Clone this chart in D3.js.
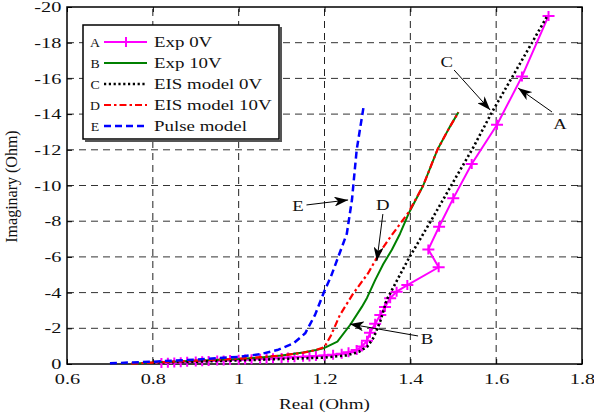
<!DOCTYPE html>
<html>
<head>
<meta charset="utf-8">
<script src="https://cdn.jsdelivr.net/npm/d3@7/dist/d3.min.js"></script>
<style>
  body { margin: 0; background: #fff; }
  svg { display: block; font-family: "Liberation Serif", "Times New Roman", serif; }
</style>
</head>
<body>
<div id="chart"></div>
<script>
// Exp 0V (magenta, + markers)
var exp0Re = [0.82,0.835,0.85,0.865,0.88,0.9,0.915,0.93,0.95,0.965,0.98,1.0,1.015,1.03,1.05,1.065,1.08,1.1,1.115,1.13,1.15,1.165,1.18,1.2,1.22,1.24,1.256,1.275,1.287,1.299,1.306,1.318,1.33,1.341,1.353,1.368,1.393,1.466,1.442,1.467,1.5,1.543,1.602,1.66,1.722];
var exp0Im = [-0.05,-0.07,-0.09,-0.1,-0.12,-0.14,-0.15,-0.17,-0.19,-0.2,-0.22,-0.24,-0.25,-0.27,-0.29,-0.3,-0.32,-0.34,-0.36,-0.38,-0.4,-0.42,-0.45,-0.48,-0.52,-0.58,-0.66,-0.78,-0.98,-1.3,-1.75,-2.25,-2.75,-3.2,-3.68,-4.05,-4.42,-5.42,-6.42,-7.69,-9.28,-11.2,-13.4,-16.1,-19.5];

// Exp 10V (green)
var exp10Re = [0.75,0.8,0.9,1.0,1.05,1.1,1.15,1.18,1.2,1.23,1.26,1.287,1.299,1.318,1.337,1.357,1.376,1.396,1.43,1.463,1.49,1.512];
var exp10Im = [-0.02,-0.08,-0.18,-0.28,-0.36,-0.47,-0.65,-0.78,-0.9,-1.25,-2.2,-3.2,-3.7,-4.7,-5.6,-6.4,-7.3,-8.43,-10.0,-12.0,-13.2,-14.1];

// EIS model 0V (black dotted)
var eis0Re = [0.8,0.9,1.0,1.1,1.2,1.25,1.28,1.3,1.315,1.33,1.345,1.396,1.45,1.5,1.546,1.59,1.65,1.718];
var eis0Im = [-0.08,-0.13,-0.2,-0.28,-0.36,-0.48,-0.68,-0.98,-1.5,-2.4,-3.6,-5.9,-8.1,-10.2,-12.1,-14.1,-16.6,-19.45];

// EIS model 10V (red dash-dot)
var eis10Re = [0.75,0.8,0.9,1.0,1.05,1.1,1.15,1.18,1.2,1.215,1.236,1.267,1.302,1.33,1.353,1.396,1.43,1.463,1.49,1.512];
var eis10Im = [-0.02,-0.08,-0.19,-0.3,-0.38,-0.48,-0.63,-0.78,-0.95,-1.6,-2.75,-3.95,-5.1,-6.3,-7.1,-8.5,-10.0,-12.0,-13.2,-14.1];

// Pulse model (blue dashed)
var pulseRe = [0.7,0.8,0.9,1.0,1.05,1.09,1.128,1.155,1.178,1.2,1.215,1.232,1.252,1.264,1.275,1.291];
var pulseIm = [-0.04,-0.13,-0.25,-0.4,-0.55,-0.78,-1.16,-1.72,-2.75,-4.1,-4.9,-6.0,-7.3,-9.2,-12.0,-14.4];

var xTicks = [0.6,0.8,1,1.2,1.4,1.6,1.8];
var yTicks = [0,-2,-4,-6,-8,-10,-12,-14,-16,-18,-20];

var seriesNames = ["Exp 0V","Exp 10V","EIS model 0V","EIS model 10V","Pulse model"];
var seriesTags = ["A","B","C","D","E"];

// annotation letters: [tag, labelRe, labelIm, fromRe, fromIm, toRe, toIm]
var notes = [
  ["C", 1.485, -16.94, 1.502, -16.47, 1.586, -14.23],
  ["A", 1.749, -13.45, 1.730, -14.12, 1.651, -15.46],
  ["E", 1.138, -8.85, 1.158, -8.91, 1.255, -9.19],
  ["D", 1.336, -8.91, 1.336, -8.40, 1.322, -5.77],
  ["B", 1.439, -1.40, 1.418, -1.57, 1.259, -2.24]
];

function zip(a, b) {
  return a.map(function(v, i) { return [v, b[i]]; });
}

function init() {
    var w = 594, h = 416;
    var sx = 1.4; // horizontal stretch of the reference's text

    var svg = d3.select("#chart").append("svg")
        .attr("width", w).attr("height", h);

    var x = d3.scaleLinear().domain([0.6, 1.8]).range([67, 582]);
    var y = d3.scaleLinear().domain([0, -20]).range([364, 7]);

    var defs = svg.append("defs");
    defs.append("marker")
        .attr("id", "arrow")
        .attr("markerUnits", "userSpaceOnUse")
        .attr("viewBox", "0 0 14 10")
        .attr("refX", 14).attr("refY", 5)
        .attr("markerWidth", 14).attr("markerHeight", 10)
        .attr("orient", "auto")
        .append("path")
        .attr("d", "M0,0 L14,5 L0,10 L4,5 Z")
        .attr("fill", "#000");

    // grid
    svg.append("g").selectAll("line")
        .data(xTicks.slice(1, -1))
        .enter().append("line")
        .attr("x1", function(d) { return x(d); })
        .attr("x2", function(d) { return x(d); })
        .attr("y1", y(0)).attr("y2", y(-20))
        .attr("stroke", "#222").attr("stroke-width", 1)
        .attr("stroke-dasharray", "7,5");
    svg.append("g").selectAll("line")
        .data(yTicks.slice(1, -1))
        .enter().append("line")
        .attr("y1", function(d) { return y(d); })
        .attr("y2", function(d) { return y(d); })
        .attr("x1", x(0.6)).attr("x2", x(1.8))
        .attr("stroke", "#333").attr("stroke-width", 1)
        .attr("stroke-dasharray", "7,5");

    // axes
    svg.append("g").attr("transform", "translate(0," + y(0) + ")")
        .call(d3.axisBottom(x).tickValues(xTicks).tickSizeInner(-5).tickSizeOuter(0).tickPadding(10)
            .tickFormat(function(d) { return String(d); }));
    svg.append("g").attr("transform", "translate(" + x(0.6) + ",0)")
        .call(d3.axisLeft(y).tickValues(yTicks).tickSizeInner(-5).tickSizeOuter(0).tickPadding(4)
            .tickFormat(function(d) { return String(d); }));
    svg.append("g").attr("transform", "translate(0," + y(-20) + ")")
        .call(d3.axisTop(x).tickValues(xTicks).tickSizeInner(-5).tickSizeOuter(0).tickFormat(""));
    svg.append("g").attr("transform", "translate(" + x(1.8) + ",0)")
        .call(d3.axisRight(y).tickValues(yTicks).tickSizeInner(-5).tickSizeOuter(0).tickFormat(""));

    svg.selectAll(".domain").remove();
    svg.selectAll(".tick line").attr("stroke", "#000");
    svg.selectAll(".tick text")
        .attr("font-family", "Liberation Serif")
        .attr("font-size", 14.5)
        .attr("fill", "#111")
        .attr("transform", "scale(" + sx + ",1)");

    svg.append("rect")
        .attr("x", x(0.6)).attr("y", y(-20))
        .attr("width", x(1.8) - x(0.6)).attr("height", y(0) - y(-20))
        .attr("fill", "none").attr("stroke", "#000").attr("stroke-width", 1.5);

    // axis titles
    svg.append("g").attr("transform", "translate(" + ((x(0.6) + x(1.8)) / 2) + ",409) scale(1.32,1)")
        .append("text").attr("text-anchor", "middle").attr("font-size", 14.5).attr("fill", "#111")
        .text("Real (Ohm)");
    svg.append("text")
        .attr("transform", "translate(17," + ((y(0) + y(-20)) / 2 + 1) + ") rotate(-90)")
        .attr("text-anchor", "middle").attr("font-size", 16).attr("fill", "#111")
        .text("Imaginary (Ohm)");

    // series
    var line = d3.line()
        .x(function(d) { return x(d[0]); })
        .y(function(d) { return y(d[1]); });

    var series = [
        {data: zip(exp0Re, exp0Im), color: "#ff00ff", width: 2, dash: null},
        {data: zip(exp10Re, exp10Im), color: "#008000", width: 2, dash: null},
        {data: zip(eis0Re, eis0Im), color: "#000", width: 2.6, dash: "2.2,2.6"},
        {data: zip(eis10Re, eis10Im), color: "#ff0000", width: 2.2, dash: "7,3,2.5,3"},
        {data: zip(pulseRe, pulseIm), color: "#0000ff", width: 2.5, dash: "7,4"}
    ];

    var plot = svg.append("g");
    series.forEach(function(s, i) {
        plot.append("path")
            .datum(s.data)
            .attr("d", line)
            .attr("fill", "none")
            .attr("stroke", s.color)
            .attr("stroke-width", s.width)
            .attr("stroke-dasharray", s.dash)
            .attr("stroke-linejoin", "round");
        if (i === 0) {
            plot.selectAll(".pm")
                .data(s.data)
                .enter().append("path")
                .attr("class", "pm")
                .attr("transform", function(d) { return "translate(" + x(d[0]) + "," + y(d[1]) + ")"; })
                .attr("d", "M-6,0H6M0,-5V5")
                .attr("stroke", s.color)
                .attr("stroke-width", 2);
        }
    });

    // annotations
    var ann = svg.append("g");
    ann.selectAll("line")
        .data(notes)
        .enter().append("line")
        .attr("x1", function(d) { return x(d[3]); })
        .attr("y1", function(d) { return y(d[4]); })
        .attr("x2", function(d) { return x(d[5]); })
        .attr("y2", function(d) { return y(d[6]); })
        .attr("stroke", "#000").attr("stroke-width", 1)
        .attr("marker-end", "url(#arrow)");
    ann.selectAll("g")
        .data(notes)
        .enter().append("g")
        .attr("transform", function(d) { return "translate(" + x(d[1]) + "," + y(d[2]) + ") scale(1.25,1)"; })
        .append("text")
        .attr("text-anchor", "middle").attr("dy", "0.35em")
        .attr("font-size", 15).attr("fill", "#111")
        .text(function(d) { return d[0]; });

    // legend
    var lg = svg.append("g");
    lg.append("path")
        .attr("d", "M281,27V141H85")
        .attr("fill", "none").attr("stroke", "#555").attr("stroke-width", 2);
    lg.append("rect")
        .attr("x", 83).attr("y", 25).attr("width", 196).attr("height", 114)
        .attr("fill", "#fff").attr("stroke", "#000").attr("stroke-width", 1.5);

    var rows = lg.selectAll(".row")
        .data(series)
        .enter().append("g")
        .attr("class", "row")
        .attr("transform", function(d, i) { return "translate(0," + (42 + i * 21) + ")"; });
    rows.append("g").attr("transform", "translate(95,0) scale(1.2,1)")
        .append("text")
        .attr("text-anchor", "middle").attr("dy", "0.4em")
        .attr("font-size", 11.5).attr("fill", "#111")
        .text(function(d, i) { return seriesTags[i]; });
    rows.append("line")
        .attr("x1", 104).attr("x2", 147)
        .attr("stroke", function(d) { return d.color; })
        .attr("stroke-width", function(d) { return d.width; })
        .attr("stroke-dasharray", function(d) { return d.dash; });
    rows.filter(function(d, i) { return i === 0; })
        .append("path")
        .attr("d", "M120,0H132M126,-5V5")
        .attr("stroke", "#ff00ff").attr("stroke-width", 2);
    rows.append("g").attr("transform", "translate(154,0) scale(1.35,1)")
        .append("text")
        .attr("dy", "0.35em")
        .attr("font-size", 14).attr("fill", "#111")
        .text(function(d, i) { return seriesNames[i]; });
}

window.onload = init;
</script>
</body>
</html>
